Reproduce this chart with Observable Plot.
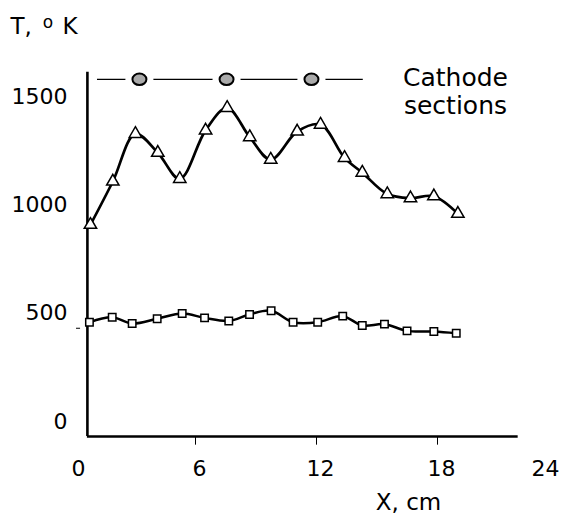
<!DOCTYPE html>
<html>
<head>
<meta charset="utf-8">
<script src="https://cdn.jsdelivr.net/npm/d3@7"></script>
<script src="https://cdn.jsdelivr.net/npm/@observablehq/plot@0.6"></script>
<style>
  html, body { margin: 0; padding: 0; background: #fff; }
  #chart svg { display: block; }
</style>
</head>
<body>
<div id="chart"></div>
<script>
// Triangle series (upper curve)
const triX = [0.79, 1.90, 3.02, 4.13, 5.22, 6.50, 7.57, 8.69, 9.73, 11.04, 12.20, 13.39, 14.27, 15.51, 16.66, 17.82, 19.01];
const triT = [978, 1178, 1398, 1311, 1190, 1414, 1518, 1383, 1279, 1409, 1441, 1287, 1219, 1120, 1101, 1110, 1029];
// Square series (lower curve)
const sqX = [0.74, 1.87, 2.86, 4.10, 5.34, 6.45, 7.65, 8.68, 9.75, 10.84, 12.06, 13.30, 14.27, 15.37, 16.49, 17.82, 18.93];
const sqT = [528, 551, 522, 544, 568, 548, 534, 564, 581, 528, 528, 556, 513, 519, 488, 485, 477];
// Cathode sections row
const sectionX = [3.22, 7.54, 11.75];
const sectionRowX = [1.14, 14.32];
const sectionRowT = 1650;
// Axes
const xTicks = [6, 12, 18];
const xTickLabels = [0, 6, 12, 18];
const xLastLabel = [24];
const yTickLabels = [0, 500, 1000, 1500];
const yTickMark = [500];
const axisX0 = 0.64, axisX1 = 22.0, axisYTop = 1683;

const tri = triX.map((x, i) => ({x, T: triT[i]}));
const sq = sqX.map((x, i) => ({x, T: sqT[i]}));

// ellipse symbol (bezier approximation)
const ellipse = {
  draw(ctx) {
    const rx = 7.0, ry = 5.7, k = 0.5523;
    ctx.moveTo(rx, 0);
    ctx.bezierCurveTo(rx, ry * k, rx * k, ry, 0, ry);
    ctx.bezierCurveTo(-rx * k, ry, -rx, ry * k, -rx, 0);
    ctx.bezierCurveTo(-rx, -ry * k, -rx * k, -ry, 0, -ry);
    ctx.bezierCurveTo(rx * k, -ry, rx, -ry * k, rx, 0);
    ctx.closePath();
  }
};

const font = "DejaVu Sans";
const plot = Plot.plot({
  width: 561,
  height: 517,
  marginLeft: 74,
  marginRight: 3,
  marginTop: 68,
  marginBottom: 81,
  x: {domain: [0, 24], axis: null},
  y: {domain: [0, 1700], axis: null},
  style: {fontFamily: font, background: "#fff", color: "#000"},
  marks: [
    // axes
    Plot.ruleX([axisX0], {y1: 0, y2: axisYTop, stroke: "#000", strokeWidth: 2.6}),
    Plot.ruleY([0], {x1: axisX0, x2: axisX1, stroke: "#000", strokeWidth: 2.6}),
    Plot.ruleX(xTicks, {y1: 0, y2: -40, stroke: "#000", strokeWidth: 1}),
    Plot.ruleY(yTickMark, {x1: 0.1, x2: 0.3, stroke: "#000", strokeWidth: 1}),
    Plot.text(xTickLabels, {x: d => d, y: 0, text: d => String(d), dx: 4, dy: 32, fontSize: 22, textAnchor: "middle"}),
    Plot.text(xLastLabel, {x: d => d, y: 0, text: d => String(d), dx: -13, dy: 32, fontSize: 22, textAnchor: "middle"}),
    Plot.text(yTickLabels, {x: 0, y: d => d, text: d => String(d), dx: -7, dy: -15, fontSize: 22, textAnchor: "end"}),
    // cathode sections
    Plot.ruleY([sectionRowT], {x1: sectionRowX[0], x2: sectionRowX[1], stroke: "#000", strokeWidth: 1.3}),
    Plot.dot(sectionX, {x: d => d, y: sectionRowT, r: 14, fill: "#fff", stroke: null, symbol: "circle"}),
    Plot.dot(sectionX, {x: d => d, y: sectionRowT, symbol: ellipse, fill: "#aaaaaa", stroke: "#000", strokeWidth: 2}),
    // curves
    Plot.line(tri, {x: "x", y: "T", curve: "catmull-rom", stroke: "#000", strokeWidth: 2.7}),
    Plot.dot(tri, {x: "x", y: "T", symbol: "triangle", r: 4.6, fill: "#fff", stroke: "#000", strokeWidth: 1.5}),
    Plot.line(sq, {x: "x", y: "T", curve: "catmull-rom", stroke: "#000", strokeWidth: 2.5}),
    Plot.dot(sq, {x: "x", y: "T", symbol: "square", r: 4.2, fill: "#fff", stroke: "#000", strokeWidth: 1.5}),
    // annotations
    Plot.text(["Cathode\nsections"], {frameAnchor: "top-right", lineAnchor: "middle", dx: -103, dy: 23, fontSize: 25, lineHeight: 1.12, textAnchor: "middle"}),
    Plot.text(["X, cm"], {frameAnchor: "bottom", lineAnchor: "middle", dx: 92, dy: 66, fontSize: 23, textAnchor: "middle"}),
    Plot.text(["T,"], {frameAnchor: "top-left", lineAnchor: "middle", dx: -64, dy: -42, fontSize: 23, textAnchor: "start"}),
    Plot.text(["o"], {frameAnchor: "top-left", lineAnchor: "middle", dx: -26.5, dy: -46, fontSize: 17, textAnchor: "middle"}),
    Plot.text(["K"], {frameAnchor: "top-left", lineAnchor: "middle", dx: -12, dy: -42, fontSize: 23, textAnchor: "start"})
  ]
});
document.getElementById("chart").appendChild(plot);
</script>
</body>
</html>
